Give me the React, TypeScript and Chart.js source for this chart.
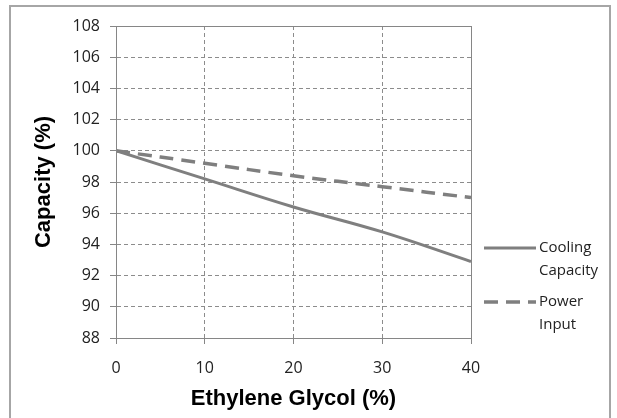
import React, { useEffect, useRef } from "react";
import { Chart, registerables } from "chart.js";

Chart.register(...registerables);

const xValues = [0, 10, 20, 30, 40];
const coolingCapacity = [100, 98.2, 96.4, 94.8, 92.9];
const powerInput = [100, 99.2, 98.4, 97.7, 97.0];
const seriesLabels = [["Cooling", "Capacity"], ["Power", "Input"]];
const xTitle = "Ethylene Glycol (%)";
const yTitle = "Capacity (%)";

const LINE = "#7f7f7f";
const GRID = "#8c8c8c";

const legendPlugin = {
  id: "customLegend",
  afterDraw(chart: any) {
    const ctx = chart.ctx;
    const area = chart.chartArea;
    ctx.save();
    ctx.strokeStyle = "#868686";
    ctx.lineWidth = 1;
    ctx.setLineDash([]);
    ctx.strokeRect(area.left + 0.5, area.top + 0.5, area.right - area.left, area.bottom - area.top);
    const x0 = area.right + 13;
    const x1 = x0 + 52;
    const starts = [248, 302];
    chart.data.datasets.forEach((ds: any, i: number) => {
      const y = starts[i];
      ctx.strokeStyle = ds.borderColor;
      ctx.lineWidth = ds.borderWidth;
      ctx.setLineDash(ds.borderDash || []);
      ctx.beginPath();
      ctx.moveTo(x0, y);
      ctx.lineTo(x1, y);
      ctx.stroke();
      ctx.setLineDash([]);
      ctx.fillStyle = "#222";
      ctx.font = "15px 'Open Sans', sans-serif";
      ctx.textBaseline = "middle";
      ctx.textAlign = "left";
      const lines = seriesLabels[i];
      lines.forEach((t, j) => ctx.fillText(t, x1 + 3, y + j * 23));
    });
    ctx.restore();
  },
};

export default function App() {
  const ref = useRef<HTMLCanvasElement>(null);
  useEffect(() => {
    if (!ref.current) return;
    const chart = new Chart(ref.current, {
      type: "line",
      data: {
        datasets: [
          {
            label: "Cooling Capacity",
            data: xValues.map((x, i) => ({ x, y: coolingCapacity[i] })),
            borderColor: LINE,
            borderWidth: 3,
            pointRadius: 0,
            tension: 0.4,
            fill: false,
          },
          {
            label: "Power Input",
            data: xValues.map((x, i) => ({ x, y: powerInput[i] })),
            borderColor: LINE,
            borderWidth: 3.5,
            borderDash: [14, 8],
            pointRadius: 0,
            tension: 0.4,
            fill: false,
          },
        ],
      },
      options: {
        animation: false,
        responsive: false,
        maintainAspectRatio: false,
        layout: { padding: { left: 0, right: 146, top: 26, bottom: 0 } },
        plugins: { legend: { display: false }, tooltip: { enabled: false } },
        scales: {
          x: {
            type: "linear",
            min: 0,
            max: 40,
            afterFit: (scale: any) => {
              scale.height = 80;
            },
            ticks: {
              stepSize: 10,
              color: "#222",
              font: { family: "'Open Sans', sans-serif", size: 16 },
              padding: 15,
              maxRotation: 0,
            },
            grid: {
              color: GRID,
              lineWidth: 1,
              drawTicks: true,
              tickLength: 6,
              tickColor: "#868686",
              tickBorderDash: [],
            },
            border: { display: true, color: "#868686", dash: [4, 3] },
            title: {
              display: true,
              text: xTitle,
              color: "#000",
              font: { family: "'Liberation Sans', Arial, sans-serif", size: 22, weight: "bold" },
              padding: { top: 0, bottom: 6 },
            },
          },
          y: {
            min: 88,
            max: 108,
            afterFit: (scale: any) => {
              scale.width = 116;
            },
            ticks: {
              stepSize: 2,
              color: "#222",
              font: { family: "'Open Sans', sans-serif", size: 16 },
              padding: 10,
            },
            grid: {
              color: GRID,
              lineWidth: 1,
              drawTicks: true,
              tickLength: 6,
              tickColor: "#868686",
              tickBorderDash: [],
            },
            border: { display: true, color: "#868686", dash: [4, 3] },
            title: {
              display: true,
              text: yTitle,
              color: "#000",
              font: { family: "'Liberation Sans', Arial, sans-serif", size: 22, weight: "bold" },
              padding: { top: 31, bottom: 0 },
            },
          },
        },
      },
      plugins: [legendPlugin],
    });
    return () => chart.destroy();
  }, []);
  return (
    <div style={{ position: "absolute", left: 0, top: 0, width: 617, height: 418, background: "#fff", overflow: "hidden" }}>
      <div
        style={{
          position: "absolute",
          left: 9,
          top: 5,
          width: 602,
          height: 430,
          border: "2px solid #a6a6a6",
          boxSizing: "border-box",
        }}
      />
      <canvas ref={ref} width={617} height={418} style={{ position: "absolute", left: 0, top: 0 }} />
    </div>
  );
}
